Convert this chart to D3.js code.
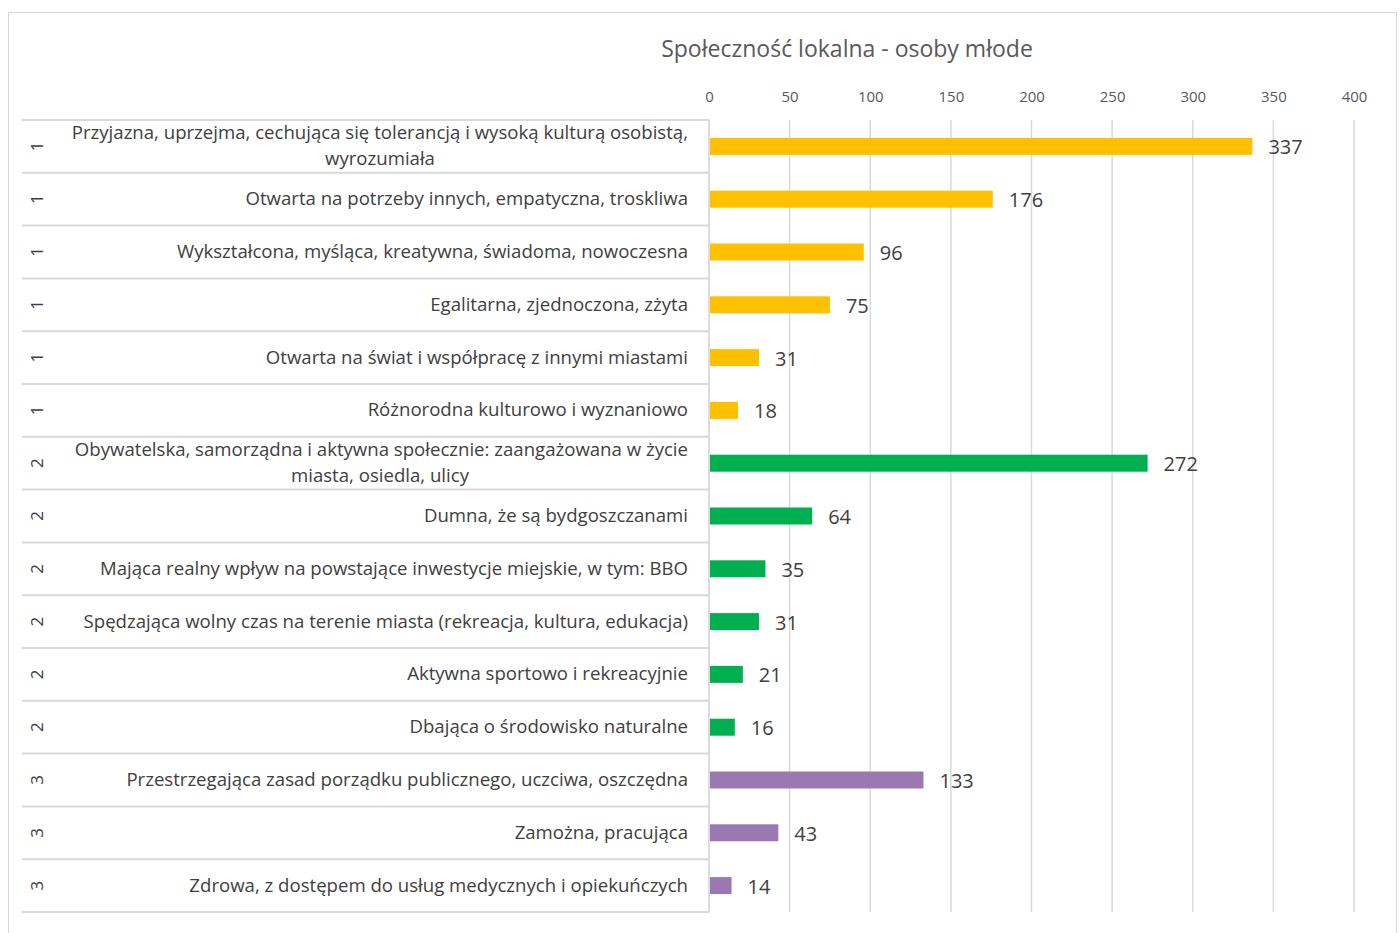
<!DOCTYPE html>
<html><head><meta charset="utf-8">
<script src="https://cdn.jsdelivr.net/npm/d3@7/dist/d3.min.js"></script>
<style>body{margin:0;background:#fff}svg{display:block}text{font-family:"Open Sans",sans-serif}</style>
</head><body><svg id="c" width="1400" height="933"></svg>
<script>
const title = "Społeczność lokalna - osoby młode";
const groups = ["1","1","1","1","1","1","2","2","2","2","2","2","3","3","3"];
const categories = [
 ["Przyjazna, uprzejma, cechująca się tolerancją i wysoką kulturą osobistą,","wyrozumiała"],
 ["Otwarta na potrzeby innych, empatyczna, troskliwa"],
 ["Wykształcona, myśląca, kreatywna, świadoma, nowoczesna"],
 ["Egalitarna, zjednoczona, zżyta"],
 ["Otwarta na świat i współpracę z innymi miastami"],
 ["Różnorodna kulturowo i wyznaniowo"],
 ["Obywatelska, samorządna i aktywna społecznie: zaangażowana w życie","miasta, osiedla, ulicy"],
 ["Dumna, że są bydgoszczanami"],
 ["Mająca realny wpływ na powstające inwestycje miejskie, w tym: BBO"],
 ["Spędzająca wolny czas na terenie miasta (rekreacja, kultura, edukacja)"],
 ["Aktywna sportowo i rekreacyjnie"],
 ["Dbająca o środowisko naturalne"],
 ["Przestrzegająca zasad porządku publicznego, uczciwa, oszczędna"],
 ["Zamożna, pracująca"],
 ["Zdrowa, z dostępem do usług medycznych i opiekuńczych"]
];
const values = [337,176,96,75,31,18,272,64,35,31,21,16,133,43,14];
const ticks = [0,50,100,150,200,250,300,350,400];
const groupColors = {"1":"#FFC000","2":"#00B050","3":"#9B78B2"};

const svg = d3.select("#c");
const x0=709, x1=1354, yTop=120, yBot=912, labL=22;
const x = d3.scaleLinear().domain([0,400]).range([x0,x1]);
const y = d3.scaleBand().domain(d3.range(values.length)).range([yTop,yBot]).padding(0);

// outer frame
svg.append("rect").attr("x",8.5).attr("y",12.5).attr("width",1388).attr("height",940)
  .attr("fill","none").attr("stroke","#d9d9d9").attr("stroke-width",1);

svg.append("text").attr("x",847).attr("y",57).attr("text-anchor","middle")
  .attr("font-size",23).attr("fill","#595959").text(title);

// gridlines
svg.append("g").selectAll("line").data(ticks.slice(1)).join("line")
  .attr("x1",d=>x(d)).attr("x2",d=>x(d)).attr("y1",yTop).attr("y2",yBot)
  .attr("stroke","#d9d9d9").attr("stroke-width",1.5);

// top axis ticks labels
const ax = svg.append("g").attr("transform",`translate(0,${yTop})`)
  .call(d3.axisTop(x).tickValues(ticks).tickSize(0).tickPadding(18));
ax.select(".domain").remove();
ax.selectAll("text").attr("font-size",15).attr("fill","#595959").attr("font-family","Open Sans");

// row lines
svg.append("g").selectAll("line").data(d3.range(values.length+1)).join("line")
  .attr("x1",labL).attr("x2",x0)
  .attr("y1",i=>i<values.length?y(i):yBot).attr("y2",i=>i<values.length?y(i):yBot)
  .attr("stroke","#d9d9d9").attr("stroke-width",2);
svg.append("line").attr("x1",x0).attr("x2",x0).attr("y1",yTop).attr("y2",yBot)
  .attr("stroke","#d0d0d0").attr("stroke-width",1.5);

// labels
const lab = svg.append("g");
categories.forEach((lines,i)=>{
  const cy = y(i)+y.bandwidth()/2;
  const n = lines.length;
  lines.forEach((ln,j)=>{
    const t = lab.append("text").attr("y",cy+(j-(n-1)/2)*26+6)
      .attr("font-size",18.6).attr("fill","#404040").text(ln);
    if(n>1 && j===n-1) t.attr("x",380).attr("text-anchor","middle");
    else t.attr("x",688).attr("text-anchor","end");
  });
  lab.append("text").attr("transform",`translate(43,${cy}) rotate(-90)`)
    .attr("text-anchor","middle").attr("font-size",17).attr("fill","#404040").text(groups[i]);
});

// bars
const bh = 17;
svg.append("g").selectAll("rect").data(values).join("rect")
  .attr("x",x(0)+1).attr("y",(d,i)=>y(i)+y.bandwidth()/2-bh/2)
  .attr("width",d=>x(d)-x(0)-1).attr("height",bh)
  .attr("fill",(d,i)=>groupColors[groups[i]]);

svg.append("g").selectAll("text").data(values).join("text")
  .attr("x",d=>x(d)+16).attr("y",(d,i)=>y(i)+y.bandwidth()/2+8)
  .attr("font-size",20).attr("fill","#404040").text(d=>d);
</script></body></html>
